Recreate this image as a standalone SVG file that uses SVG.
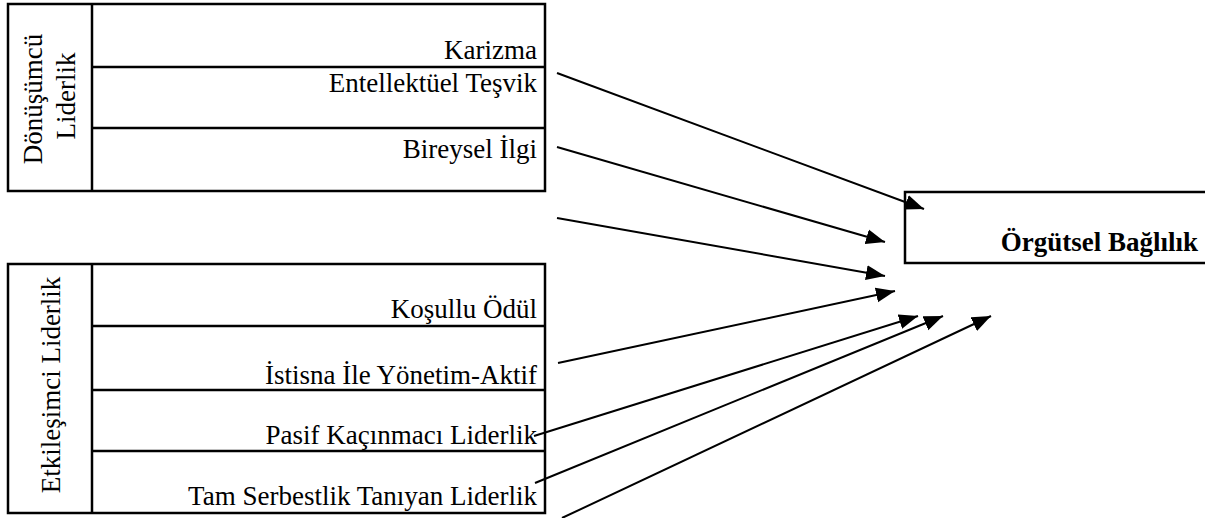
<svg xmlns="http://www.w3.org/2000/svg" width="1205" height="518" viewBox="0 0 1205 518">
<style>
.box{fill:none;stroke:#000;stroke-width:2.5}
.div{stroke:#000;stroke-width:2.5}
.t{font-family:Liberation Serif;font-size:27px;fill:#000}
.b{font-weight:bold}
.c{stroke:#000;stroke-width:2;fill:none;marker-end:url(#ah)}
</style>
<defs>
<marker id="ah" markerUnits="userSpaceOnUse" markerWidth="20" markerHeight="16" refX="19" refY="7.5" orient="auto" viewBox="0 0 20 15">
<path d="M0,0 L19,7.5 L0,15 z" fill="#000"/>
</marker>
</defs>
<rect width="1205" height="518" fill="#fff"/>
<g id="donusumcu">
<rect class="box" x="8" y="4" width="537" height="187"/>
<line class="div" x1="92" y1="4" x2="92" y2="191"/>
<line class="div" x1="92" y1="67" x2="545" y2="67"/>
<line class="div" x1="92" y1="128" x2="545" y2="128"/>
<text class="t" font-family="Liberation Serif" transform="translate(42,99) rotate(-90)" text-anchor="middle">Dönüşümcü</text>
<text class="t" font-family="Liberation Serif" transform="translate(75,96) rotate(-90)" text-anchor="middle">Liderlik</text>
<text class="t" font-family="Liberation Serif" x="537" y="59" text-anchor="end">Karizma</text>
<text class="t" font-family="Liberation Serif" x="537" y="92" text-anchor="end">Entellektüel Teşvik</text>
<text class="t" font-family="Liberation Serif" x="537" y="158" text-anchor="end">Bireysel İlgi</text>
</g>
<g id="etkilesimci">
<rect class="box" x="8" y="264" width="537" height="249"/>
<line class="div" x1="92" y1="264" x2="92" y2="513"/>
<line class="div" x1="92" y1="326" x2="545" y2="326"/>
<line class="div" x1="92" y1="390" x2="545" y2="390"/>
<line class="div" x1="92" y1="451" x2="545" y2="451"/>
<text class="t" font-family="Liberation Serif" transform="translate(60,385) rotate(-90)" text-anchor="middle">Etkileşimci Liderlik</text>
<text class="t" font-family="Liberation Serif" x="537" y="318" text-anchor="end">Koşullu Ödül</text>
<text class="t" font-family="Liberation Serif" x="537" y="384" text-anchor="end">İstisna İle Yönetim-Aktif</text>
<text class="t" font-family="Liberation Serif" x="537" y="444" text-anchor="end">Pasif Kaçınmacı Liderlik</text>
<text class="t" font-family="Liberation Serif" x="537" y="505" text-anchor="end">Tam Serbestlik Tanıyan Liderlik</text>
</g>
<g id="orgutsel">
<rect class="box" x="905" y="192" width="310" height="71"/>
<text class="t b" font-family="Liberation Serif" x="1198" y="251" text-anchor="end">Örgütsel Bağlılık</text>
</g>
<g id="connectors">
<line class="c" x1="557" y1="73" x2="924" y2="209"/>
<line class="c" x1="557" y1="147" x2="885" y2="242"/>
<line class="c" x1="557" y1="218" x2="885" y2="276"/>
<line class="c" x1="558" y1="363" x2="895" y2="291"/>
<line class="c" x1="534" y1="436" x2="918" y2="316"/>
<line class="c" x1="535" y1="483" x2="943" y2="316"/>
<line class="c" x1="562" y1="518" x2="991" y2="316"/>
</g>
</svg>
